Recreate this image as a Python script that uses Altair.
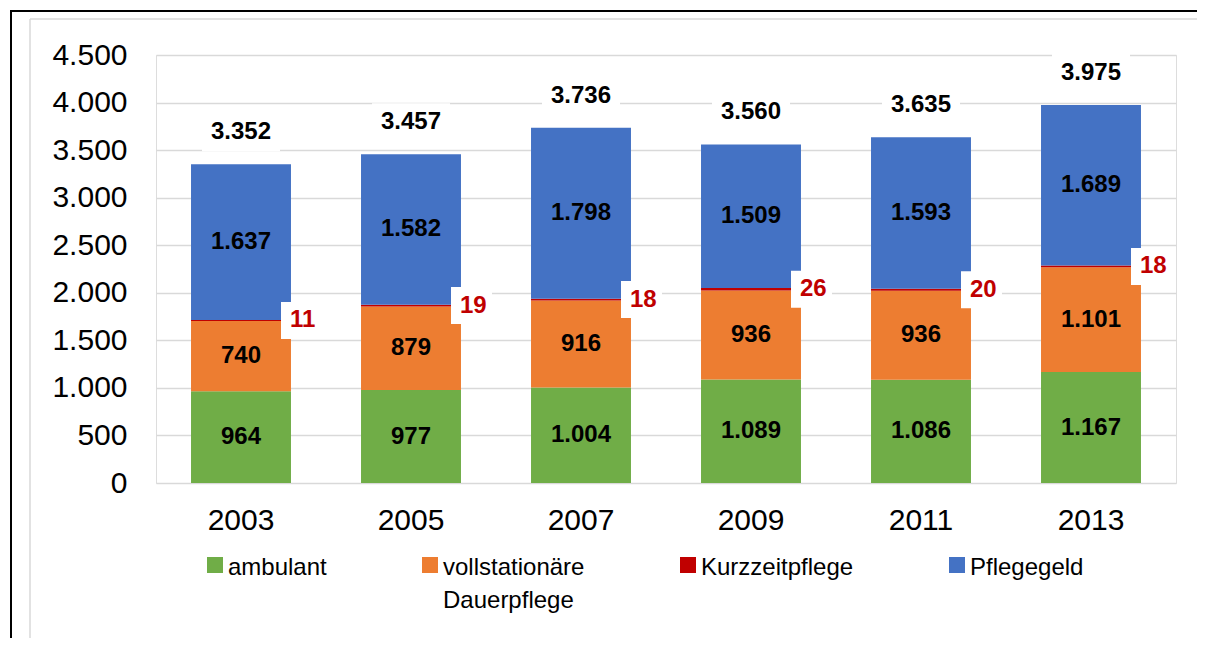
import altair as alt
import pandas as pd

years = ['2003', '2005', '2007', '2009', '2011', '2013']
series = ['ambulant', 'vollstationäre Dauerpflege', 'Kurzzeitpflege', 'Pflegegeld']
ambulant = [964, 977, 1004, 1089, 1086, 1167]
vollstationaer = [740, 879, 916, 936, 936, 1101]
kurzzeit = [11, 19, 18, 26, 20, 18]
pflegegeld = [1637, 1582, 1798, 1509, 1593, 1689]
colors = ['#70AD47', '#ED7D31', '#C00000', '#4472C4']
y_ticks = [0, 500, 1000, 1500, 2000, 2500, 3000, 3500, 4000, 4500]

rows = []
for i, yr in enumerate(years):
    for k, (name, vals) in enumerate(zip(series, [ambulant, vollstationaer, kurzzeit, pflegegeld])):
        rows.append({'year': yr, 'series': name, 'order': k, 'value': vals[i]})
df = pd.DataFrame(rows)

FONT = 'Liberation Sans'
fmt = "replace(format({v}, ','), ',', '.')"

xscale = alt.Scale(paddingInner=0.412, paddingOuter=0.206)
yscale = alt.Scale(domain=[0, 4500], nice=False)

x_axis = alt.Axis(title=None, labelAngle=0, labelFontSize=30, labelFont=FONT, labelColor='black',
                  ticks=False, domain=False, labelPadding=22, grid=False)
y_axis = alt.Axis(title=None, values=y_ticks, labelFontSize=30, labelFont=FONT, labelColor='black',
                  ticks=False, domain=False, labelPadding=29, grid=True, gridColor='#d9d9d9',
                  gridWidth=1.5, labelExpr=fmt.format(v='datum.value'))

stacked = alt.Chart(df).transform_stack(
    stack='value', groupby=['year'], as_=['v0', 'v1'],
    sort=[alt.SortField('order', order='ascending')]
).transform_calculate(
    mid='(datum.v0 + datum.v1) / 2',
    label=fmt.format(v='datum.value')
)

legend = alt.Legend(
    title=None, orient='none', legendX=47, legendY=489, direction='horizontal', columns=4,
    columnPadding=91, labelFont=FONT, labelFontSize=24, labelColor='black', labelLimit=400,
    labelOffset=1, labelBaseline='top', symbolSize=256, symbolStrokeWidth=0,
    symbolType='M-1,0.125H1V2.125H-1Z', padding=0,
    labelExpr="datum.label == 'vollstationäre Dauerpflege' ? ['vollstationäre', 'Dauerpflege'] : [datum.label, '']"
)

bars = stacked.mark_bar().encode(
    x=alt.X('year:N', sort=years, scale=xscale, axis=x_axis),
    y=alt.Y('v0:Q', scale=yscale, axis=y_axis),
    y2='v1:Q',
    color=alt.Color('series:N', scale=alt.Scale(domain=series, range=colors), legend=legend),
)

seg_text = stacked.transform_filter("datum.series != 'Kurzzeitpflege'").mark_text(
    font=FONT, fontSize=24, fontWeight='bold', color='black'
).encode(
    x=alt.X('year:N', sort=years),
    y=alt.Y('mid:Q'),
    text='label:N',
)

red = stacked.transform_filter("datum.series == 'Kurzzeitpflege'")
red_box = red.mark_tick(orient='horizontal', size=41, thickness=37, color='white', opacity=1,
                        xOffset=60.5).encode(
    x=alt.X('year:N', sort=years),
    y=alt.Y('mid:Q'),
)
red_text = red.mark_text(font=FONT, fontSize=24, fontWeight='bold', color='#C00000',
                         align='left', dx=-1).encode(
    x=alt.X('year:N', sort=years, bandPosition=1),
    y=alt.Y('mid:Q'),
    text='label:N',
)

totals = alt.Chart(df).transform_aggregate(
    total='sum(value)', groupby=['year']
).transform_calculate(tlabel=fmt.format(v='datum.total'))

total_box = totals.mark_tick(orient='horizontal', size=78, thickness=38, color='white', opacity=1,
                             yOffset=-32).encode(
    x=alt.X('year:N', sort=years),
    y=alt.Y('total:Q'),
)
total_text = totals.mark_text(font=FONT, fontSize=24, fontWeight='bold', color='black',
                              dy=-32).encode(
    x=alt.X('year:N', sort=years),
    y=alt.Y('total:Q'),
    text='tlabel:N',
)

frame_df = pd.DataFrame({'k': [0]})
frame = alt.Chart(frame_df)
gray_left = frame.mark_rule(color='#d9d9d9', strokeWidth=1.5).encode(
    x=alt.value(-126), y=alt.value(-36), y2=alt.value(800))
gray_top = frame.mark_rule(color='#d9d9d9', strokeWidth=1.5).encode(
    x=alt.value(-126), x2=alt.value(1041), y=alt.value(-36))
black_left = frame.mark_rule(color='black', strokeWidth=2).encode(
    x=alt.value(-145), y=alt.value(-45), y2=alt.value(800))
black_top = frame.mark_rule(color='black', strokeWidth=2).encode(
    x=alt.value(-146), x2=alt.value(1200), y=alt.value(-44))

chart = alt.layer(
    gray_left, gray_top, black_left, black_top,
    bars, red_box, total_box, seg_text, red_text, total_text
).properties(
    width=1020, height=428,
    autosize=alt.AutoSizeParams(type='none'),
    padding={'left': 148, 'top': 47, 'right': 21, 'bottom': 155},
).configure_view(stroke=None).configure(
    background='white',
    style={'guide-label': {'lineHeight': 33}},
)

chart.save('out.html', embed_options={'renderer': 'svg', 'actions': False})
